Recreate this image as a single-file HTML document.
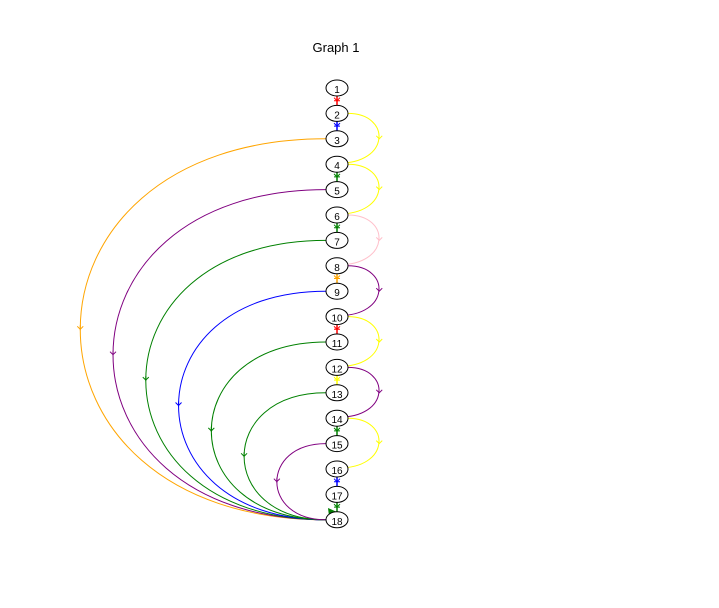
<!DOCTYPE html>
<html><head><meta charset="utf-8"><style>
body{margin:0;background:#fff;}
svg{display:block;font-family:"Liberation Sans",sans-serif;}
</style></head><body>
<svg id="g" width="719" height="608">
<text x="336" y="52" text-anchor="middle" font-size="13">Graph 1</text>
</svg>
<script>
const nodeLabels = [1,2,3,4,5,6,7,8,9,10,11,12,13,14,15,16,17,18];
const straightEdges = [[1,2,'red'],[2,3,'blue'],[4,5,'green'],[6,7,'green'],[8,9,'orange'],[10,11,'red'],[12,13,'yellow'],[14,15,'green'],[16,17,'blue'],[17,18,'green']];
const rightArcs = [[2,4,'yellow'],[4,6,'yellow'],[6,8,'pink'],[8,10,'purple'],[10,12,'yellow'],[12,14,'purple'],[14,16,'yellow']];
const leftArcs = [[3,18,'orange'],[5,18,'purple'],[7,18,'green'],[9,18,'blue'],[11,18,'green'],[13,18,'green'],[15,18,'purple']];
const NS='http://www.w3.org/2000/svg';
const svg=document.getElementById('g');
const cx=337, y0=88, dy=25.4;
function ny(n){return y0+(n-1)*dy;}
function mk(t,a){const e=document.createElementNS(NS,t);for(const k in a)e.setAttribute(k,a[k]);svg.appendChild(e);return e;}
// left arcs
leftArcs.forEach(([a,b,c])=>{
  const ya=ny(a), yb=ny(b), off=(yb-ya)*0.86;
  const p=mk('path',{d:`M${cx-11} ${ya} C${cx-11-off} ${ya} ${cx-11-off} ${yb} ${cx-11} ${yb}`,fill:'none',stroke:c,'stroke-width':1});
  
  
  const mx=cx-11-off*0.75, my=(ya+yb)/2;
  mk('path',{d:`M${mx-3} ${my-3} L${mx} ${my} L${mx+3} ${my-3} M${mx} ${my-4} L${mx} ${my+1}`,fill:'none',stroke:c});
});
// right arcs
rightArcs.forEach(([a,b,c])=>{
  const ya=ny(a), yb=ny(b), off=43;
  const p=mk('path',{d:`M${cx+11} ${ya} C${cx+11+off} ${ya} ${cx+11+off} ${yb} ${cx} ${yb-1}`,fill:'none',stroke:c,'stroke-width':1});
  
  
  const mx=cx+11+off*0.75-1, my=(ya+yb)/2;
  mk('path',{d:`M${mx-3} ${my-3} L${mx} ${my} L${mx+3} ${my-3}`,fill:'none',stroke:c});
});
// straight edges
straightEdges.forEach(([a,b,c])=>{
  const p=mk('line',{x1:cx,y1:ny(a)+8,x2:cx,y2:ny(b)-8,stroke:c,'stroke-width':1.5});
  
  
  const my=(ny(a)+ny(b))/2;
  mk('path',{d:`M${cx-3} ${my-3} L${cx} ${my} L${cx+3} ${my-3} M${cx-3} ${my} L${cx+3} ${my}`,fill:'none',stroke:c});
});
mk('path',{d:`M328 508 L337 512 L329 516 Z`,fill:'green'});
// nodes
nodeLabels.forEach(n=>{
  const e=mk('ellipse',{cx:cx,cy:ny(n),rx:11,ry:8,fill:'#fff',stroke:'#000'});
  
  
  const t=mk('text',{x:cx,y:ny(n)+5,'text-anchor':'middle','font-size':10});
  t.textContent=n;
  
  
});
</script>
</body></html>
